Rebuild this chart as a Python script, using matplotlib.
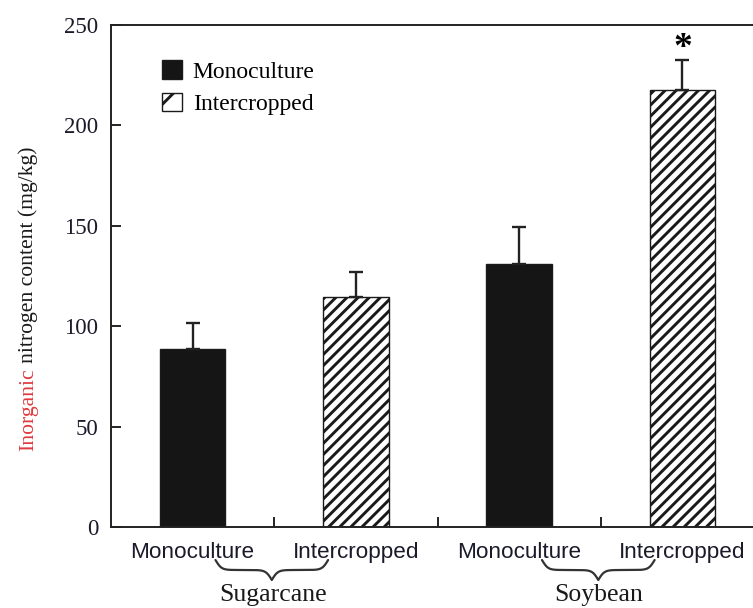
import numpy as np
import matplotlib
matplotlib.use("Agg")
import matplotlib.pyplot as plt
from matplotlib.patches import Rectangle
from matplotlib.transforms import blended_transform_factory

plt.rcParams["hatch.linewidth"] = 2.1

# data
treatments = ["Monoculture", "Intercropped"]
crops = ["Sugarcane", "Soybean"]
tick_labels = ["Monoculture", "Intercropped", "Monoculture", "Intercropped"]
values = [88.5, 114.7, 131.0, 217.6]
errors = [13.0, 12.5, 18.3, 15.0]
signif = [False, False, False, True]

serif = "Liberation Serif"
sans = "Liberation Sans"

W, H = 753, 608
fig = plt.figure(figsize=(W / 100, H / 100), dpi=100)
ax = fig.add_axes([111 / W, 1 - 527 / H, (764 - 111) / W, (527 - 25) / H])

x = np.arange(1, len(values) + 1)
fills = ["#151515", "white"] * len(crops)
hatches = [None, "///"] * len(crops)

for xi, v, fc, h in zip(x, values, fills, hatches):
    ax.bar(xi, v, width=0.40, color=fc, edgecolor="#1a1a1a",
           linewidth=1.0, hatch=h, zorder=2)

ax.errorbar(x, values, yerr=[np.zeros(len(errors)), errors], fmt="none",
            ecolor="#222222", elinewidth=1.7, capsize=5, capthick=1.7, zorder=3)

for xi, v, e, s in zip(x, values, errors, signif):
    if s:
        ax.text(xi, v + e + 5.5, "*", ha="center", va="center",
                fontsize=27, fontweight="bold", family=serif)

ax.set_xlim(0.5, 4.5)
ax.set_ylim(0, 250)
ax.set_yticks(np.arange(0, 251, 50))
ax.tick_params(axis="y", direction="in", length=7, width=1.2, pad=9,
               labelsize=16.5, labelcolor="#1a1a2a")
for lab in ax.get_yticklabels():
    lab.set_family(serif)

ax.set_xticks(x)
ax.set_xticklabels(tick_labels, family=sans, fontsize=16.2, color="#1a1a2a")
ax.set_xticks([1.5, 2.5, 3.5], minor=True)
ax.tick_params(axis="x", which="major", length=0, pad=11)
ax.tick_params(axis="x", which="minor", direction="in", length=7, width=1.2)

for sp in ax.spines.values():
    sp.set_linewidth(1.4)
    sp.set_color("#222222")

handles = [Rectangle((0, 0), 1, 1, facecolor=fills[0], edgecolor="#1a1a1a"),
           Rectangle((0, 0), 1, 1, facecolor="white", edgecolor="#1a1a1a",
                     hatch="/")]
ax.legend(handles, treatments, loc="upper left",
          bbox_to_anchor=(0.078, 0.93), frameon=False,
          prop={"family": serif, "size": 17}, handlelength=0.85,
          handleheight=0.85, handletextpad=0.45, labelspacing=0.42,
          borderpad=0, borderaxespad=0)

# braces and crop names under each pair
trans = blended_transform_factory(ax.transData, fig.transFigure)


def brace(xc, half, ytop, height):
    xs = np.linspace(xc - half, xc + half, 401)
    xh = xs[:201]
    beta = 55.0
    yh = 1 / (1 + np.exp(-beta * (xh - xh[0]))) + 1 / (1 + np.exp(-beta * (xh - xh[-1])))
    yy = np.concatenate((yh, yh[-2::-1])) - 0.5
    ypx = ytop + yy * height
    ax.plot(xs, 1 - ypx / H, color="#333333", lw=1.6, transform=trans,
            clip_on=False, solid_capstyle="round")


for i, crop in enumerate(crops):
    xc = x[2 * i:2 * i + 2].mean()
    brace(xc - 0.015, 0.345, 560, 20)
    ax.text(xc - 0.01, 1 - 601 / H, crop, transform=trans, ha="center",
            va="baseline", family=serif, fontsize=18.5, color="#1a1a1a")

# y label, first word in red
t1 = fig.text(33 / W, 1 - 451 / H, "Inorganic", rotation=90,
              rotation_mode="anchor", ha="left", va="baseline",
              family=serif, fontsize=15.6, color="#e03a3e")
fig.canvas.draw()
bb = t1.get_window_extent()
fig.text(33 / W, (bb.y1 + 5) / H, "nitrogen content (mg/kg)", rotation=90,
         rotation_mode="anchor", ha="left", va="baseline",
         family=serif, fontsize=15.6, color="#1a1a1a")

fig.savefig("out.png", dpi=100)
